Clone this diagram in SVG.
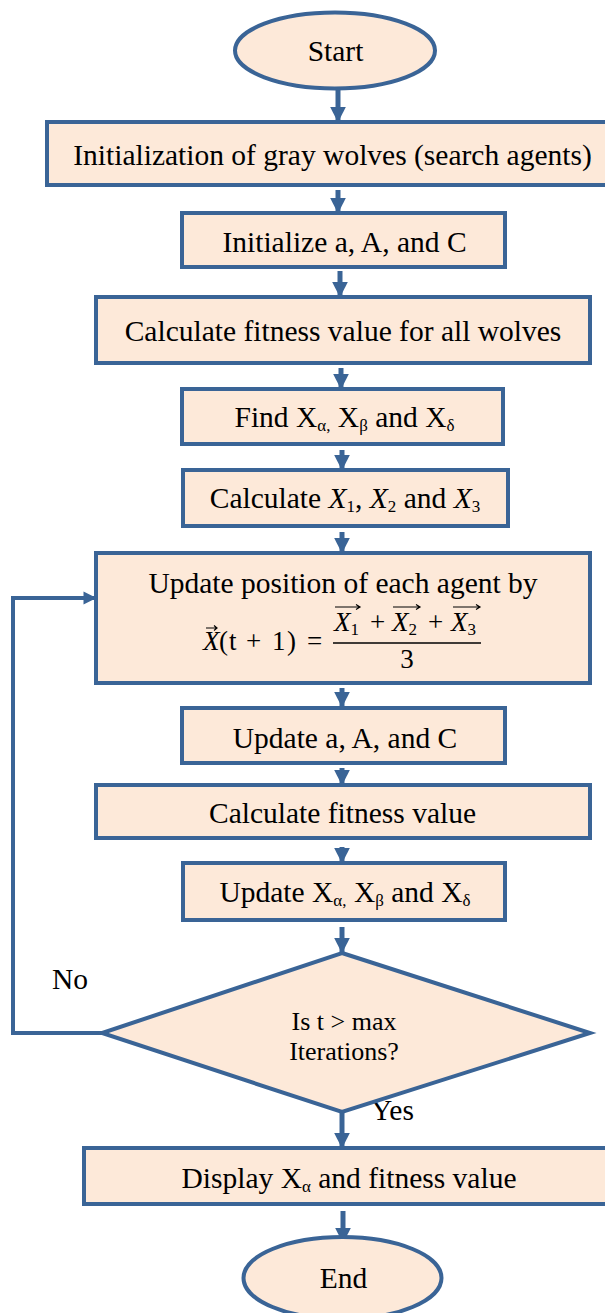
<svg xmlns="http://www.w3.org/2000/svg" width="605" height="1313" viewBox="0 0 605 1313">
  <style>
    .box { fill: #FDE9D9; stroke: #3A6496; stroke-width: 4; }
    .lbl { font-family: 'Liberation Serif', 'Times New Roman', Times, serif; font-size: 29.5px; fill: #000; text-anchor: middle; }
    .dec { font-family: 'Liberation Serif', 'Times New Roman', Times, serif; font-size: 26px; fill: #000; text-anchor: middle; }
    .free { font-family: 'Liberation Serif', 'Times New Roman', Times, serif; font-size: 29.5px; fill: #000; }
    .math { font-family: 'Liberation Serif', 'Times New Roman', Times, serif; font-size: 27px; fill: #000; }
    .it { font-style: italic; }
    .sub { font-size: 17px; }
    .conn { fill: none; stroke: #3A6496; stroke-width: 5; }
    .vec { fill: none; stroke: #000; stroke-width: 1.2; }
  </style>
  <defs>
    <marker id="head" viewBox="0 0 10 10" refX="9" refY="5" markerWidth="3.2" markerHeight="3.4" orient="auto" markerUnits="strokeWidth">
      <path d="M0,0 L10,5 L0,10 Z" fill="#3A6496"/>
    </marker>
  </defs>

  <!-- connectors -->
  <g id="connectors">
    <line class="conn" x1="338" y1="89" x2="338" y2="121" marker-end="url(#head)"/>
    <line class="conn" x1="338" y1="190" x2="338" y2="212" marker-end="url(#head)"/>
    <line class="conn" x1="340" y1="271" x2="340" y2="296" marker-end="url(#head)"/>
    <line class="conn" x1="341" y1="368" x2="341" y2="388" marker-end="url(#head)"/>
    <line class="conn" x1="342" y1="450" x2="342" y2="469" marker-end="url(#head)"/>
    <line class="conn" x1="342" y1="532" x2="342" y2="552" marker-end="url(#head)"/>
    <line class="conn" x1="342" y1="688" x2="342" y2="706" marker-end="url(#head)"/>
    <line class="conn" x1="342" y1="768" x2="342" y2="784" marker-end="url(#head)"/>
    <line class="conn" x1="342" y1="847" x2="342" y2="862" marker-end="url(#head)"/>
    <line class="conn" x1="342" y1="927" x2="342" y2="952" marker-end="url(#head)"/>
    <line class="conn" x1="342" y1="1112" x2="342" y2="1147" marker-end="url(#head)"/>
    <line class="conn" x1="343" y1="1211" x2="343" y2="1242" marker-end="url(#head)"/>
    <!-- "No" branch back to the position update -->
    <polyline class="conn" style="stroke-width:4" points="104,1033 13,1033 13,598 95,598" marker-end="url(#head)"/>
    <text class="free" x="52" y="989">No</text>
    <text class="free" x="371" y="1120">Yes</text>
  </g>

  <g id="start">
    <ellipse class="box" cx="335" cy="50.5" rx="100" ry="38"/>
    <text class="lbl" x="335.5" y="61">Start</text>
  </g>

  <g id="init-wolves">
    <rect class="box" x="47" y="122" width="570" height="63"/>
    <text class="lbl" x="332.5" y="165">Initialization of gray wolves (search agents)</text>
  </g>

  <g id="init-params">
    <rect class="box" x="182" y="213" width="323" height="54"/>
    <text class="lbl" x="344.5" y="252">Initialize a, A, and C</text>
  </g>

  <g id="fitness-all">
    <rect class="box" x="96" y="297" width="494" height="66"/>
    <text class="lbl" x="343" y="341">Calculate fitness value for all wolves</text>
  </g>

  <g id="find-leaders">
    <rect class="box" x="182" y="389" width="321" height="55"/>
    <text class="lbl" x="344.5" y="427">Find X<tspan class="sub" dy="4">α,</tspan><tspan dy="-4"> X</tspan><tspan class="sub" dy="4">β</tspan><tspan dy="-4"> and X</tspan><tspan class="sub" dy="4">δ</tspan></text>
  </g>

  <g id="calc-x">
    <rect class="box" x="183" y="470" width="325" height="56"/>
    <text class="lbl" x="345" y="508">Calculate <tspan class="it">X</tspan><tspan class="sub" dy="4">1</tspan><tspan dy="-4">, </tspan><tspan class="it">X</tspan><tspan class="sub" dy="4">2</tspan><tspan dy="-4"> and </tspan><tspan class="it">X</tspan><tspan class="sub" dy="4">3</tspan></text>
  </g>

  <g id="update-position">
    <rect class="box" x="96" y="553" width="494" height="130"/>
    <text class="lbl" x="343" y="593">Update position of each agent by</text>
    <!-- X(t + 1) = (X1 + X2 + X3) / 3 -->
    <text class="math" y="650"><tspan class="it" x="203">X</tspan><tspan x="219">(</tspan><tspan x="229">t</tspan><tspan x="246">+</tspan><tspan x="272">1</tspan><tspan x="287">)</tspan><tspan x="307">=</tspan></text>
    <path class="vec" d="M206,628 L217,628 M214,625.5 L217,628 L214,630.5"/>
    <text class="math" y="631"><tspan class="it" x="334">X</tspan><tspan class="sub" dy="4">1</tspan><tspan dy="-4" x="370">+</tspan><tspan class="it" x="392">X</tspan><tspan class="sub" dy="4">2</tspan><tspan dy="-4" x="428">+</tspan><tspan class="it" x="451">X</tspan><tspan class="sub" dy="4">3</tspan></text>
    <path class="vec" d="M335,607 L360,607 M356,604.5 L360,607 L356,609.5"/>
    <path class="vec" d="M393,607 L420,607 M416,604.5 L420,607 L416,609.5"/>
    <path class="vec" d="M453,607 L480,607 M476,604.5 L480,607 L476,609.5"/>
    <line x1="333" y1="643" x2="481" y2="643" stroke="#000" stroke-width="1.6"/>
    <text class="math" x="407" y="668" text-anchor="middle">3</text>
  </g>

  <g id="update-params">
    <rect class="box" x="182" y="708" width="323" height="55"/>
    <text class="lbl" x="345" y="748">Update a, A, and C</text>
  </g>

  <g id="fitness">
    <rect class="box" x="96" y="785" width="494" height="53"/>
    <text class="lbl" x="342.5" y="823">Calculate fitness value</text>
  </g>

  <g id="update-leaders">
    <rect class="box" x="183" y="863" width="322" height="57"/>
    <text class="lbl" x="345" y="902">Update X<tspan class="sub" dy="4">α,</tspan><tspan dy="-4"> X</tspan><tspan class="sub" dy="4">β</tspan><tspan dy="-4"> and X</tspan><tspan class="sub" dy="4">δ</tspan></text>
  </g>

  <g id="decision">
    <polygon class="box" points="342,953 590,1033 342,1112 102,1033"/>
    <text class="dec" x="344" y="1030">Is t &gt; max</text>
    <text class="dec" x="344" y="1060">Iterations?</text>
  </g>

  <g id="display">
    <rect class="box" x="84" y="1148" width="530" height="56"/>
    <text class="lbl" x="349" y="1188">Display X<tspan class="sub" dy="4">α</tspan><tspan dy="-4"> and fitness value</tspan></text>
  </g>

  <g id="end">
    <ellipse class="box" cx="342.5" cy="1278" rx="99" ry="41"/>
    <text class="lbl" x="343.5" y="1288">End</text>
  </g>
</svg>
